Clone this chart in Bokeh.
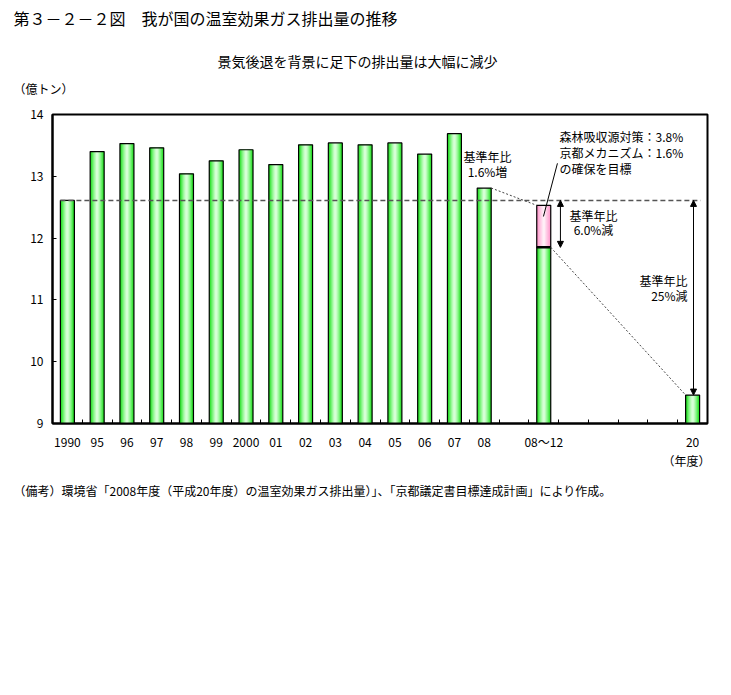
from bokeh.plotting import figure
from bokeh.layouts import column
from bokeh.models import Range1d, FixedTicker, Label, Arrow, NormalHead
from bokeh.embed import file_html
from bokeh.resources import INLINE

FONT = "Noto Sans CJK JP"

# ---------------- data ----------------
x_labels = ["1990", "95", "96", "97", "98", "99", "2000", "01", "02", "03", "04",
            "05", "06", "07", "08", "", "08～12", "", "", "", "", "20"]
actual_years = ["1990", "95", "96", "97", "98", "99", "2000", "01", "02", "03",
                "04", "05", "06", "07", "08"]
actual_values = [12.61, 13.40, 13.53, 13.46, 13.04, 13.25, 13.43, 13.19, 13.51,
                 13.54, 13.51, 13.54, 13.36, 13.69, 12.81]
base_value = 12.61          # 基準年
target_period = "08～12"
target_domestic = 11.85     # 基準年比6.0%減
target_with_credits = 12.53 # 森林吸収源+京都メカニズム分を加えた上端
goal_year = "20"
goal_value = 9.46           # 基準年比25%減
y_ticks = [9, 10, 11, 12, 13, 14]
y_min, y_max = 9, 14

pos = {lab: i + 0.5 for i, lab in enumerate(x_labels) if lab}
BW = 0.47

W = 723
TOP_H = 100                 # header strip
FL, FT, FR, FB = 52, 114, 707, 423   # frame edges on the page
MAIN_H = 452 - TOP_H
BOT_H = 687 - 452


def no_align(f):
    if "frame_align" in type(f).properties():
        f.frame_align = False


def text_strip(height):
    f = figure(width=W, height=height, output_backend="svg", toolbar_location=None,
               title=None, x_axis_location=None, y_axis_location=None,
               x_range=Range1d(0, 1), y_range=Range1d(0, 1), min_border=0)
    f.grid.visible = False
    f.outline_line_color = None
    f.background_fill_color = "white"
    f.border_fill_color = "white"
    no_align(f)
    return f


def lab(fig, text, px, py, size=12, align="left"):
    fig.add_layout(Label(x=px, y=py, x_units="canvas", y_units="canvas",
                         text=text, text_font=FONT, text_font_size=f"{size}px",
                         text_align=align, text_baseline="middle", text_color="black"))


# ---------------- header ----------------
top = text_strip(TOP_H)
lab(top, "第３－２－２図　我が国の温室効果ガス排出量の推移", 13, 17, 16)
lab(top, "景気後退を背景に足下の排出量は大幅に減少", 217, 60, 14)
lab(top, "（億トン）", 13, 88, 12)

# ---------------- main chart ----------------
p = figure(width=W, height=MAIN_H, output_backend="svg", toolbar_location=None, title=None,
           x_range=Range1d(0, len(x_labels)), y_range=Range1d(y_min, y_max),
           min_border_left=FL, min_border_right=W - FR, min_border_top=FT - TOP_H,
           min_border_bottom=452 - FB)
no_align(p)
p.xgrid.visible = False
p.ygrid.visible = False
p.outline_line_color = "black"
p.outline_line_width = 2
p.background_fill_color = "white"
p.border_fill_color = "white"

p.yaxis.ticker = FixedTicker(ticks=y_ticks)
p.yaxis.major_tick_in = 4
p.yaxis.major_tick_out = 0
p.yaxis.minor_tick_line_color = None
p.yaxis.axis_line_width = 2
p.yaxis.major_label_standoff = 9
p.yaxis.major_label_text_font = FONT
p.yaxis.major_label_text_font_size = "12px"
p.yaxis.major_label_text_color = "black"

centers = [i + 0.5 for i in range(len(x_labels))]
bounds = [i for i in range(1, len(x_labels))]
p.xaxis.ticker = FixedTicker(ticks=centers, minor_ticks=bounds)
p.xaxis.major_label_overrides = {i + 0.5: lab_ for i, lab_ in enumerate(x_labels)}
p.xaxis.major_tick_line_color = None
p.xaxis.major_tick_in = 0
p.xaxis.major_tick_out = 0
p.xaxis.minor_tick_in = 4
p.xaxis.minor_tick_out = 0
p.xaxis.minor_tick_line_color = "black"
p.xaxis.axis_line_width = 2
p.xaxis.major_label_standoff = 9
p.xaxis.major_label_text_font = FONT
p.xaxis.major_label_text_font_size = "12px"
p.xaxis.major_label_text_color = "black"

GREEN = ["#22dd22", "#4ae84a", "#72f272", "#98f898", "#bafcba", "#d6ffd6"]
PINK = ["#ff99cc", "#ffaad5", "#ffbbdd", "#ffcce6", "#ffddee", "#fff0f7"]


def grad_bar(xs, bottoms, tops, colors):
    n = len(colors)
    for k, c in enumerate(colors):
        p.vbar(x=xs, bottom=bottoms, top=tops, width=BW * (1 - k / n),
               fill_color=c, line_color=None)
    p.vbar(x=xs, bottom=bottoms, top=tops, width=BW, fill_color=None,
           line_color="black", line_width=1.2)


xs = [pos[y] for y in actual_years]
grad_bar(xs, [y_min] * len(xs), actual_values, GREEN)
grad_bar([pos[target_period]], [y_min], [target_domestic], GREEN)
grad_bar([pos[target_period]], [target_domestic], [target_with_credits], PINK)
p.segment(x0=[pos[target_period] - BW / 2], x1=[pos[target_period] + BW / 2],
          y0=[target_domestic], y1=[target_domestic], line_color="black", line_width=2.5)
grad_bar([pos[goal_year]], [y_min], [goal_value], GREEN)

# base year dashed line
p.line(x=[pos["1990"] - BW / 2, len(x_labels) - 0.23], y=[base_value, base_value],
       line_color="#555555", line_width=1.5, line_dash="5 3")

# dotted connectors
p.line(x=[pos["08"] + BW / 2, pos[target_period] - BW / 2],
       y=[actual_values[-1], target_with_credits],
       line_color="#444444", line_width=1, line_dash="2 2")
p.line(x=[pos[target_period] + BW / 2, pos[goal_year] - BW / 2],
       y=[target_domestic, goal_value],
       line_color="#444444", line_width=1, line_dash="2 2")

# pointer from note to pink part
p.line(x=[pos[target_period] + 0.46, pos[target_period] - 0.01],
       y=[13.21, 12.35], line_color="black", line_width=1)

for xa, ya in [(pos[target_period] + 0.56, target_domestic), (pos[goal_year] + 0.03, goal_value)]:
    p.add_layout(Arrow(x_start=xa, y_start=base_value, x_end=xa, y_end=ya,
                       start=NormalHead(size=6, fill_color="black", line_color="black"),
                       end=NormalHead(size=6, fill_color="black", line_color="black"),
                       line_width=1))

# in-chart notes (canvas coords of this figure = page y - TOP_H)
for text, px, py, align in [
    ("基準年比", 487, 156, "center"), ("1.6%増", 487, 171, "center"),
    ("森林吸収源対策：3.8%", 559, 136, "left"), ("京都メカニズム：1.6%", 559, 152, "left"),
    ("の確保を目標", 559, 168, "left"),
    ("基準年比", 593, 215, "center"), ("6.0%減", 593, 229, "center"),
    ("基準年比", 687, 280, "right"), ("25%減", 687, 295, "right"),
]:
    lab(p, text, px, py - TOP_H, 12, align)

# ---------------- footer ----------------
bot = text_strip(BOT_H)
lab(bot, "（年度）", 686, 460 - 452, 12, "center")
lab(bot, "（備考）環境省「2008年度（平成20年度）の温室効果ガス排出量）」、「京都議定書目標達成計画」により作成。",
    13, 490 - 452, 12)

layout = column(top, p, bot, spacing=0)
open("out.html", "w").write(file_html(layout, INLINE))
